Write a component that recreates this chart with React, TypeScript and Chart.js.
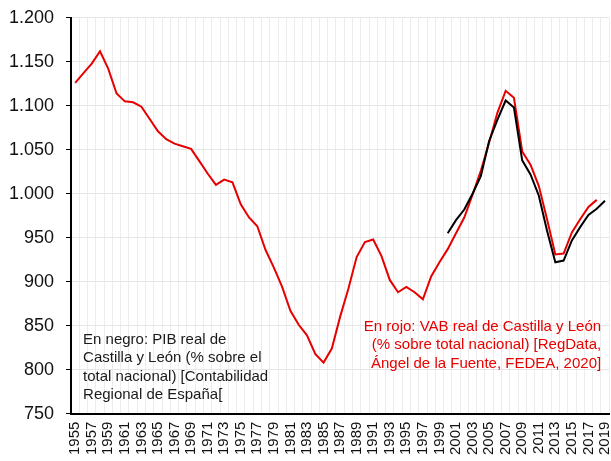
import React, { useEffect, useRef } from "react";
import { Chart, registerables } from "chart.js";

Chart.register(...registerables);

const years: string[] = [
  "1955","1956","1957","1958","1959","1960","1961","1962","1963","1964",
  "1965","1966","1967","1968","1969","1970","1971","1972","1973","1974",
  "1975","1976","1977","1978","1979","1980","1981","1982","1983","1984",
  "1985","1986","1987","1988","1989","1990","1991","1992","1993","1994",
  "1995","1996","1997","1998","1999","2000","2001","2002","2003","2004",
  "2005","2006","2007","2008","2009","2010","2011","2012","2013","2014",
  "2015","2016","2017","2018","2019",
];

// VAB real Castilla y León (RegData, FEDEA) – red
const vabRegData: (number | null)[] = [
  1126, 1137, 1148, 1162, 1142, 1114, 1105, 1104, 1099, 1085,
  1071, 1062, 1057, 1054, 1051, 1037, 1023, 1010, 1016, 1013,
  988, 973, 963, 936, 916, 894, 867, 851, 839, 818,
  808, 824, 860, 892, 928, 945, 948, 929, 902, 888,
  894, 888, 880, 906, 922, 937, 955, 973, 999, 1026,
  1058, 1092, 1117, 1109, 1048, 1033, 1009, 971, 931, 932,
  956, 971, 985, 993, null,
];

// PIB real Castilla y León (Contabilidad Regional de España) – black
const pibCRE: (number | null)[] = [
  null, null, null, null, null, null, null, null, null, null,
  null, null, null, null, null, null, null, null, null, null,
  null, null, null, null, null, null, null, null, null, null,
  null, null, null, null, null, null, null, null, null, null,
  null, null, null, null, null, 955, 970, 982, 1000, 1020,
  1060, 1084, 1106, 1098, 1038, 1022, 998, 958, 922, 924,
  947, 962, 976, 983, 992,
];

const blackNote: string[] = [
  "En negro: PIB real de",
  "Castilla y León (% sobre el",
  "total nacional) [Contabilidad",
  "Regional de España[",
];

const redNote: string[] = [
  "En rojo: VAB real de Castilla y León",
  "(% sobre total nacional) [RegData,",
  "Ángel de la Fuente, FEDEA, 2020]",
];

const RED = "#e80000";
const FONT = "'Liberation Sans', Arial, sans-serif";

function fmt(v: number): string {
  if (v >= 1000) {
    const th = Math.floor(v / 1000);
    const rest = String(Math.round(v % 1000)).padStart(3, "0");
    return th + "." + rest;
  }
  return String(v);
}

const notesPlugin = {
  id: "notes",
  afterDatasetsDraw(chart: any) {
    const ctx = chart.ctx;
    const area = chart.chartArea;
    ctx.save();
    ctx.font = "15px " + FONT;
    ctx.textBaseline = "alphabetic";
    ctx.fillStyle = "#1a1a1a";
    ctx.textAlign = "left";
    blackNote.forEach((t, i) => {
      ctx.fillText(t, area.left + 12, area.bottom - 70 + i * 18.5);
    });
    ctx.fillStyle = RED;
    ctx.textAlign = "right";
    redNote.forEach((t, i) => {
      ctx.fillText(t, area.right - 8, area.bottom - 83 + i * 18.5);
    });
    ctx.restore();
  },
};

export default function App() {
  const ref = useRef<HTMLCanvasElement | null>(null);

  useEffect(() => {
    if (!ref.current) return;
    const chart = new Chart(ref.current, {
      type: "line",
      data: {
        labels: years,
        datasets: [
          {
            label: "PIB real (CRE)",
            data: pibCRE,
            borderColor: "#000000",
            borderWidth: 2,
            pointRadius: 0,
            tension: 0,
            spanGaps: false,
          },
          {
            label: "VAB real (RegData)",
            data: vabRegData,
            borderColor: RED,
            borderWidth: 2,
            pointRadius: 0,
            tension: 0,
            spanGaps: false,
          },
        ],
      },
      options: {
        animation: false,
        responsive: false,
        maintainAspectRatio: false,
        layout: { padding: { left: -3, right: 0, top: 2, bottom: 0 } },
        plugins: {
          legend: { display: false },
          tooltip: { enabled: false },
        },
        scales: {
          x: {
            type: "category",
            offset: true,
            grid: {
              offset: true,
              color: "#ececec",
              lineWidth: 1,
              drawTicks: false,
            },
            border: { color: "#000000", width: 2 },
            ticks: {
              autoSkip: false,
              maxRotation: 90,
              minRotation: 90,
              padding: 8,
              color: "#111111",
              font: { family: FONT, size: 15 },
              callback: function (_v: any, i: number) {
                return i % 2 === 0 ? years[i] : "";
              },
            },
          },
          y: {
            min: 750,
            max: 1200,
            grid: {
              color: "#e6e6e6",
              lineWidth: 1,
              tickLength: 5,
              tickColor: "#000000",
            },
            border: { color: "#000000", width: 2 },
            ticks: {
              stepSize: 50,
              padding: 12,
              color: "#111111",
              font: { family: FONT, size: 18 },
              callback: (v: any) => fmt(Number(v)),
            },
          },
        },
      },
      plugins: [notesPlugin],
    });
    return () => chart.destroy();
  }, []);

  return (
    <div style={{ position: "absolute", left: 0, top: 0, width: 611, height: 461, overflow: "hidden", background: "#fff" }}>
      <canvas
        ref={ref}
        width={631}
        height={468}
        style={{ position: "absolute", left: 0, top: -5, width: 631, height: 468, display: "block" }}
      />
    </div>
  );
}
